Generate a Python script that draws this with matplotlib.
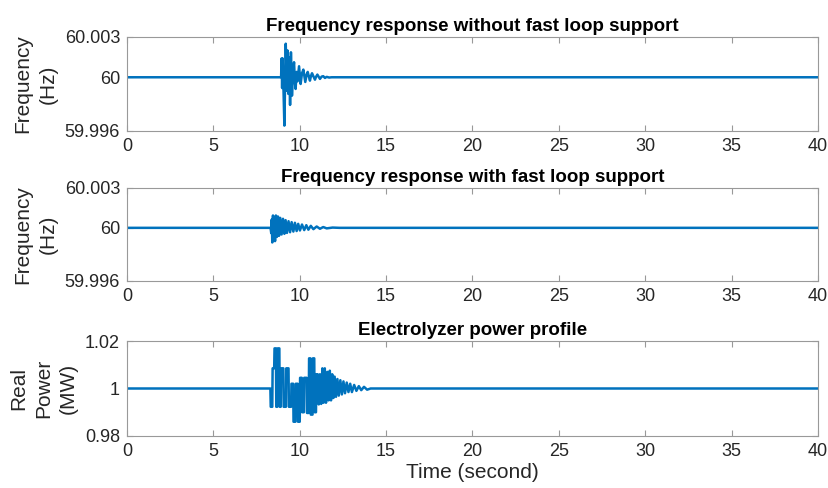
import matplotlib.pyplot as plt
import numpy as np

plt.rcParams['font.family'] = ['Liberation Sans', 'DejaVu Sans']

# frequency without fast loop support (time s, deviation mHz)
t_a = [0, 8.92, 8.95, 8.98, 9.01, 9.05, 9.11, 9.19, 9.25, 9.29, 9.34, 9.39, 9.44, 9.49,
       9.55, 9.62, 9.67, 9.72, 9.76, 9.82, 9.87, 9.96, 10.05, 10.13, 10.21, 10.32, 10.40,
       10.46, 10.59, 10.65, 10.71, 10.88, 10.95, 11.02, 11.17, 11.27, 11.36, 11.46, 11.56,
       11.70, 11.85, 40]
d_a = [0, 0, 1.4, -0.8, 1.4, -0.4, -3.6, 2.5, -1.0, 2.0, -1.24, 1.5, -2.06, 1.86,
       -1.37, 0.6, 1.12, -0.4, -0.87, 0.4, -0.3, 0.82, -0.5, 0.3, 0.57, -0.35, 0.2,
       0.4, -0.25, 0.1, 0.3, -0.18, 0.05, 0.2, -0.12, 0.05, 0.08, -0.05, 0.03,
       -0.02, 0, 0]

# frequency with fast loop support (time s, deviation mHz)
t_b = [0, 8.31, 8.35, 8.38, 8.41, 8.45, 8.49, 8.53, 8.57, 8.62, 8.68, 8.74, 8.80, 8.87,
       8.95, 9.03, 9.11, 9.18, 9.26, 9.35, 9.44, 9.53, 9.63, 9.72, 9.82, 9.91, 10.01,
       10.13, 10.26, 10.38, 10.50, 10.64, 10.79, 10.98, 11.17, 11.36, 11.56, 11.9, 12.3, 40]
d_b = [0, 0, -0.4, 0.63, -1.1, 0.93, -0.88, 0.5, -1.0, 0.93, -0.68, 0.85, -0.6, 0.75,
       -0.5, 0.68, -0.45, 0.58, -0.38, 0.5, -0.33, 0.43, -0.28, 0.38, -0.24, 0.3, -0.2,
       0.25, -0.17, 0.2, -0.14, 0.15, -0.1, 0.1, -0.07, 0.06, -0.04, 0.02, 0, 0]

# electrolyzer power (time s, MW)
t_c = [0, 8.30, 8.32, 8.41, 8.43, 8.52, 8.54, 8.62, 8.64, 8.70, 8.72, 8.82, 8.84, 8.90,
       8.92, 9.05, 9.07, 9.20, 9.22, 9.35, 9.37, 9.50, 9.52, 9.62, 9.64, 9.75, 9.77, 9.88,
       9.90, 10.00, 10.02, 10.12, 10.14, 10.24, 10.26, 10.40, 10.42, 10.52, 10.54, 10.62,
       10.64, 10.74, 10.76, 10.84, 10.86, 10.94, 10.96, 11.04, 11.10, 11.17, 11.24, 11.31,
       11.38, 11.45, 11.52, 11.60, 11.67, 11.74, 11.81, 11.88, 11.95, 12.02, 12.10, 12.18,
       12.26, 12.35, 12.44, 12.53, 12.62, 12.72, 12.82, 12.92, 13.02, 13.15, 13.28, 13.42,
       13.56, 13.72, 13.90, 14.1, 40]
p_c = [1.0, 1.0, 0.9923, 0.9923, 1.0085, 1.0085, 1.0169, 1.0169, 0.9923, 0.9923, 1.0169,
       1.0169, 0.9923, 0.9923, 1.0085, 1.0085, 0.9923, 0.9923, 1.0085, 1.0085, 0.9923,
       0.9923, 1.002, 1.002, 0.986, 0.986, 1.002, 1.002, 0.986, 0.986, 1.0045, 1.0045,
       0.99, 0.99, 1.0045, 1.0045, 0.9897, 0.9897, 1.0127, 1.0127, 0.989, 0.989, 1.0127,
       1.0127, 0.99, 0.99, 1.006, 1.006, 0.9933, 1.006, 0.9935, 1.0085, 0.994, 1.0085,
       0.994, 1.007, 0.995, 1.0075, 0.995, 1.006, 0.996, 1.005, 0.9965, 1.004, 0.997,
       1.0035, 0.9975, 1.003, 0.998, 1.0025, 0.9985, 1.002, 0.9985, 1.0015, 0.999, 1.001,
       0.9993, 1.0007, 0.9995, 1.0, 1.0]

f_a = 60 + np.array(d_a) / 1000
f_b = 60 + np.array(d_b) / 1000

blue = '#0072BD'
grey = '#262626'

fig = plt.figure(figsize=(8.29, 4.88), dpi=100)
ax1 = fig.add_axes([0.1532, 0.7316, 0.8335, 0.1926])
ax2 = fig.add_axes([0.1532, 0.4242, 0.8335, 0.1906])
ax3 = fig.add_axes([0.1532, 0.1066, 0.8335, 0.1946])

ax1.plot(t_a, f_a, color=blue, lw=1.8)
ax2.plot(t_b, f_b, color=blue, lw=1.8)
ax3.plot(t_c, p_c, color=blue, lw=1.8)

titles = ['Frequency response without fast loop support',
          'Frequency response with fast loop support',
          'Electrolyzer power profile']
ylabels = ['Frequency\n(Hz)', 'Frequency\n(Hz)', 'Real\nPower\n(MW)']

for ax, ttl, yl in zip([ax1, ax2, ax3], titles, ylabels):
    ax.set_xlim(0, 40)
    ax.set_xticks(range(0, 41, 5))
    ax.set_title(ttl, fontsize=13.5, fontweight='bold', pad=4, color='black')
    ax.set_ylabel(yl, fontsize=15, color=grey, labelpad=5, linespacing=1.4)
    ax.tick_params(direction='in', length=4, width=0.8, top=True, right=True,
                   labelsize=13, colors=grey, pad=5)
    ax.tick_params(axis='both', color='#999999')
    for s in ax.spines.values():
        s.set_color('#999999')
        s.set_linewidth(0.8)

for ax in [ax1, ax2]:
    ax.set_ylim(59.996, 60.003)
    ax.set_yticks([59.996, 60, 60.003])
    ax.set_yticklabels(['59.996', '60', '60.003'])

ax3.set_ylim(0.98, 1.02)
ax3.set_yticks([0.98, 1, 1.02])
ax3.set_yticklabels(['0.98', '1', '1.02'])
ax3.set_xlabel('Time (second)', fontsize=15, color=grey, labelpad=2)

fig.savefig('out.png', dpi=100)
